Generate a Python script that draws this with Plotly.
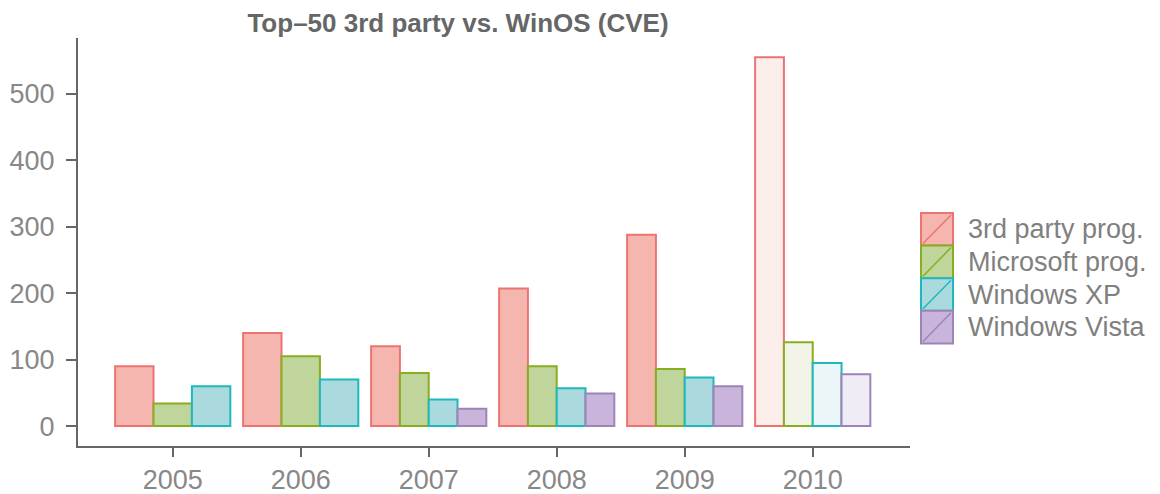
import plotly.graph_objects as go

# ---- data ----
years = [2005, 2006, 2007, 2008, 2009, 2010]
series_names = ["3rd party prog.", "Microsoft prog.", "Windows XP", "Windows Vista"]
third_party = [90, 140, 120, 207, 288, 555]
microsoft = [34, 105, 80, 90, 86, 126]
windows_xp = [60, 70, 40, 57, 73, 95]
windows_vista = [None, None, 26, 49, 60, 78]
y_ticks = [0, 100, 200, 300, 400, 500]
title_text = "Top\u201350 3rd party vs. WinOS (CVE)"

# ---- styles ----
line_colors = ["#EC7470", "#86AE1E", "#1FB8BD", "#9C85B6"]
fill_colors = ["#F5B6AF", "#BFD59B", "#AADADD", "#C9B5DB"]
light_fill_colors = ["#FCEEEB", "#F1F4E7", "#EAF6F7", "#F0ECF5"]
light_year = 2010
group_width = 0.9
FONT = "Liberation Sans, Arial, sans-serif"
FS = 27

# page body has an 8px margin; figure coordinates = screen - 8
OFF = 8
FIG_W, FIG_H = 1160 - OFF, 494 - OFF
# plot area in screen pixels
plot_l, plot_r, plot_t, plot_b = 78, 910, 38, 446

all_series = [third_party, microsoft, windows_xp, windows_vista]

fig = go.Figure()

for si, (name, vals) in enumerate(zip(series_names, all_series)):
    xs, ys, ws, fills = [], [], [], []
    for yi, yr in enumerate(years):
        v = vals[yi]
        if v is None:
            continue
        present = [k for k in range(len(all_series)) if all_series[k][yi] is not None]
        n = len(present)
        w = group_width / n
        k = present.index(si)
        xs.append(yr - group_width / 2 + w * (k + 0.5))
        ys.append(v)
        ws.append(w)
        fills.append(light_fill_colors[si] if yr == light_year else fill_colors[si])
    fig.add_trace(go.Bar(
        x=xs, y=ys, width=ws, name=name,
        marker=dict(color=fills, line=dict(color=line_colors[si], width=2)),
        showlegend=False,
    ))

# ---- custom legend (large swatches with diagonal, ggplot style) ----
plot_w = plot_r - plot_l
plot_h = plot_b - plot_t
sw_x0, sw_x1 = 921, 953
sw_top, sw_h = 213, 32.6
text_x = 966


def px(v):
    return (v - plot_l) / plot_w


def py(v):
    return 1 - (v - plot_t) / plot_h


for i, name in enumerate(series_names):
    y0px = sw_top + i * sw_h
    y1px = y0px + sw_h
    fig.add_shape(type="rect", xref="paper", yref="paper",
                  x0=px(sw_x0), x1=px(sw_x1), y0=py(y1px), y1=py(y0px),
                  fillcolor=fill_colors[i], line=dict(color=line_colors[i], width=2))
    fig.add_shape(type="line", xref="paper", yref="paper",
                  x0=px(sw_x0 + 2), x1=px(sw_x1 - 2), y0=py(y1px - 2), y1=py(y0px + 2),
                  line=dict(color=line_colors[i], width=1.5))
    fig.add_annotation(xref="paper", yref="paper", x=px(text_x), y=py((y0px + y1px) / 2),
                       text=name, showarrow=False, xanchor="left", yanchor="middle",
                       font=dict(family=FONT, size=FS, color="#808080"))

fig.update_layout(
    width=FIG_W, height=FIG_H,
    margin=dict(l=plot_l - OFF, r=FIG_W - (plot_r - OFF), t=plot_t - OFF,
                b=FIG_H - (plot_b - OFF), autoexpand=False),
    paper_bgcolor="white", plot_bgcolor="white",
    barmode="overlay",
    title=dict(text=title_text, x=(458 - OFF) / FIG_W, xref="container", xanchor="center",
               y=1 - (23 - OFF) / FIG_H, yref="container", yanchor="middle",
               font=dict(family=FONT, size=26, color="#666666", weight="bold")),
    font=dict(family=FONT, size=FS, color="#888888"),
    xaxis=dict(range=[2004.26, 2010.76], tickvals=years, ticktext=[str(y) for y in years],
               showline=True, linecolor="#666666", linewidth=2, showgrid=False, zeroline=False,
               ticks="outside", ticklen=9, tickwidth=2, tickcolor="#666666",
               tickfont=dict(family=FONT, size=FS, color="#888888")),
    yaxis=dict(range=[-30, 584], tickvals=y_ticks,
               showline=True, linecolor="#666666", linewidth=2, showgrid=False, zeroline=False,
               ticks="outside", ticklen=10, tickwidth=2, tickcolor="#666666",
               ticklabelstandoff=6,
               tickfont=dict(family=FONT, size=FS, color="#888888")),
)

fig.write_html("out.html")
